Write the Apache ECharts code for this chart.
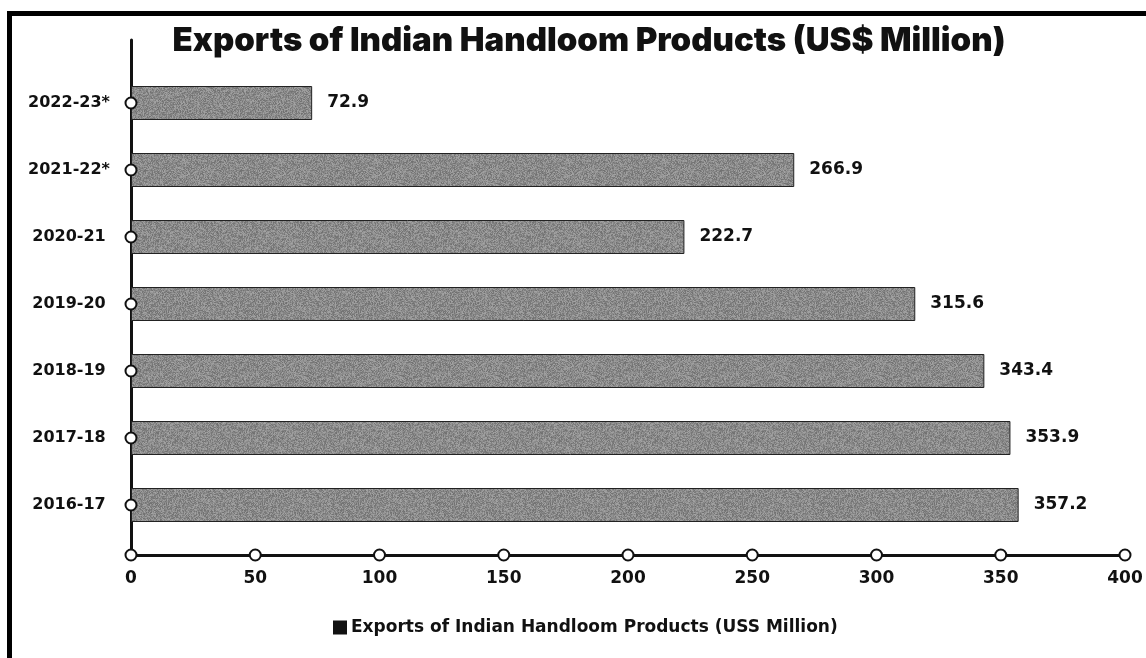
<!DOCTYPE html>
<html>
<head>
<meta charset="utf-8">
<title>Exports of Indian Handloom Products</title>
<script src="https://cdn.jsdelivr.net/npm/echarts@6/dist/echarts.min.js"></script>
<style>
  html, body { margin: 0; padding: 0; background: #ffffff; }
  #chart { width: 1146px; height: 658px; }
</style>
</head>
<body>
<div id="chart"></div>
<script>
// Financial years, listed top to bottom
const years = ['2022-23*', '2021-22*', '2020-21', '2019-20', '2018-19', '2017-18', '2016-17'];
// Export value per year, US$ million
const exportsUsdMn = [72.9, 266.9, 222.7, 315.6, 343.4, 353.9, 357.2];
// Value axis ticks
const xTicks = [0, 50, 100, 150, 200, 250, 300, 350, 400];

const seriesName = 'Exports of Indian Handloom Products (USS Million)';
const TITLE_FONT = 'Inter, "Noto Sans", sans-serif';
const FONT = '"DejaVu Sans", "Noto Sans", sans-serif';

// Grainy grey fill for the bars (deterministic hash noise)
function grainTexture() {
  const size = 96;
  const c = document.createElement('canvas');
  c.width = size; c.height = size;
  const ctx = c.getContext('2d');
  const img = ctx.createImageData(size, size);
  for (let y = 0; y < size; y++) {
    for (let x = 0; x < size; x++) {
      let h = (x * 374761393 + y * 668265263) | 0;
      h = Math.imul(h ^ (h >>> 13), 1274126177);
      h = (h ^ (h >>> 16)) >>> 0;
      const n = (h & 255) / 255;
      const g = Math.round(112 + n * 52);
      const i = (y * size + x) * 4;
      img.data[i] = g; img.data[i + 1] = g; img.data[i + 2] = g; img.data[i + 3] = 255;
    }
  }
  ctx.putImageData(img, 0, 0);
  return c;
}

const chart = echarts.init(document.getElementById('chart'));

const circle = {
  type: 'scatter',
  symbol: 'circle',
  symbolSize: 11,
  itemStyle: { color: '#ffffff', borderColor: '#111111', borderWidth: 2, opacity: 1 },
  emphasis: { disabled: true },
  silent: true,
  clip: false,
  z: 10
};

chart.setOption({
  animation: false,
  backgroundColor: '#ffffff',
  title: {
    text: 'Exports of Indian Handloom Products (US$ Million)',
    left: 584,
    textAlign: 'center',
    top: 20,
    textStyle: { fontFamily: TITLE_FONT, fontWeight: 900, fontSize: 33, color: '#111111' }
  },
  legend: {
    data: [{ name: seriesName, itemStyle: { color: '#111111', borderWidth: 0 } }],
    left: 328,
    top: 614,
    icon: 'rect',
    itemWidth: 14,
    itemHeight: 14,
    itemGap: 6,
    selectedMode: false,
    textStyle: { fontFamily: FONT, fontWeight: 'bold', fontSize: 17, color: '#111111', padding: [0, 0, 0, -1] }
  },
  graphic: [
    { type: 'rect', left: 7, top: 11, shape: { width: 1139, height: 5 }, style: { fill: '#000000' }, z: 100 },
    { type: 'rect', left: 7, top: 11, shape: { width: 5, height: 647 }, style: { fill: '#000000' }, z: 100 }
  ],
  grid: [
    // frame for the axis lines and value ticks
    { left: 131, right: 21, top: 40, bottom: 103 },
    // frame for the bars
    { left: 131, right: 21, top: 69.5, bottom: 119.5 }
  ],
  xAxis: [
    {
      gridIndex: 0, type: 'value', min: 0, max: 400, interval: 50,
      axisLine: { show: true, lineStyle: { color: '#111111', width: 3 } },
      axisTick: { show: false },
      splitLine: { show: false },
      axisLabel: { margin: 15, fontFamily: FONT, fontWeight: 'bold', fontSize: 17, color: '#111111' }
    },
    {
      gridIndex: 1, type: 'value', min: 0, max: 400, show: false
    }
  ],
  yAxis: [
    {
      gridIndex: 0, type: 'value', min: 0, max: 1,
      axisLine: { show: true, lineStyle: { color: '#111111', width: 3 } },
      axisTick: { show: false }, axisLabel: { show: false }, splitLine: { show: false }
    },
    {
      gridIndex: 1, type: 'category', data: years, inverse: true,
      axisLine: { show: false }, axisTick: { show: false },
      axisLabel: { margin: 62, align: 'center', fontFamily: FONT, fontWeight: 'bold', fontSize: 16, color: '#111111' }
    }
  ],
  series: [
    {
      name: seriesName,
      type: 'bar',
      xAxisIndex: 1, yAxisIndex: 1,
      data: exportsUsdMn,
      barWidth: 34,
      itemStyle: {
        color: { image: grainTexture(), repeat: 'repeat' },
        borderColor: '#222222',
        borderWidth: 1
      },
      label: {
        show: true, position: 'right', distance: 15,
        fontFamily: FONT, fontWeight: 'bold', fontSize: 17, color: '#111111'
      },
      emphasis: { disabled: true },
      z: 2
    },
    Object.assign({}, circle, {
      xAxisIndex: 0, yAxisIndex: 0,
      data: xTicks.map(v => [v, 0])
    }),
    Object.assign({}, circle, {
      xAxisIndex: 1, yAxisIndex: 1,
      data: years.map(y => [0, y])
    })
  ]
});
</script>
</body>
</html>
